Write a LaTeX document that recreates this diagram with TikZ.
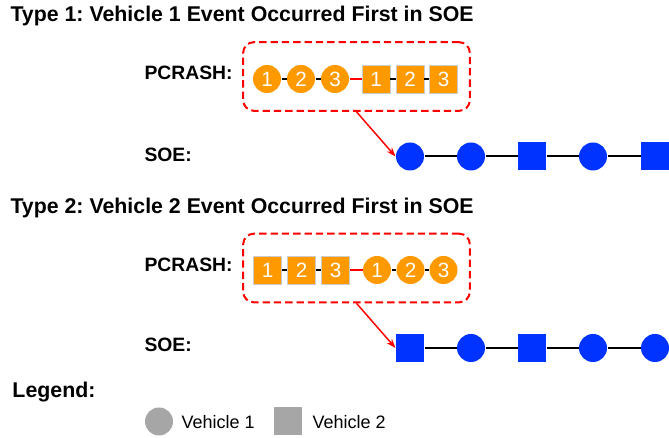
\documentclass[tikz,border=0pt]{standalone}
\usepackage{fontspec}
\setmainfont{Liberation Sans}
\frenchspacing
\usetikzlibrary{arrows.meta}
\tikzset{every picture/.style={line width=0.75pt}}
\definecolor{pcorange}{RGB}{255,153,0}
\definecolor{soeblue}{RGB}{0,51,255}
\definecolor{leggray}{RGB}{166,166,166}
\tikzset{
	veh1/.style={circle,fill=pcorange,text=white,minimum size=21pt,inner sep=0pt,font=\fontsize{15.5}{17}\selectfont},
	veh2/.style={rectangle,fill=pcorange,draw=black!20,line width=0.4pt,text=white,minimum size=21pt,inner sep=0pt,font=\fontsize{15.5}{17}\selectfont},
	soe1/.style={circle,fill=soeblue,minimum size=21pt,inner sep=0pt},
	soe2/.style={rectangle,fill=soeblue,minimum size=21pt,inner sep=0pt},
	leg1/.style={circle,fill=leggray,minimum size=21pt,inner sep=0pt},
	leg2/.style={rectangle,fill=leggray,minimum size=21pt,inner sep=0pt},
	pclink/.style={line width=1.1pt},
	soelink/.style={line width=1.5pt},
	crashbox/.style={draw=red,dash pattern=on 5.5pt off 3pt,line width=1.5pt,rounded corners=8pt,minimum width=170pt,minimum height=51.5pt},
	crasharrow/.style={draw=red,line width=1.1pt,-{Stealth[length=7pt,width=5pt]}},
	title/.style={anchor=base west,inner sep=0pt,font=\bfseries\fontsize{16}{18}\selectfont},
	rowlabel/.style={anchor=base west,inner sep=0pt,font=\bfseries\fontsize{14.5}{17}\selectfont},
	legtext/.style={anchor=west,inner sep=0pt,font=\fontsize{13.5}{16}\selectfont}
}
\begin{document}
\begin{tikzpicture}[x=0.75pt,y=0.75pt,yscale=-1,xscale=1]
		\useasboundingbox (0,0) rectangle (669,438);
		
		% Text Node
		\draw (10,21.7) node[title] (titlea) {Type 1: Vehicle 1 Event Occurred First in SOE};
		% Text Node
		\draw (144,80) node[rowlabel] (pclabela) {PCRASH:};
		% Text Node
		\draw (144,162) node[rowlabel] (soelabela) {SOE:};
		
		%Shape: Dashed Box
		\draw (356.5,76.5) node[crashbox] (boxa) {};
		%Shape: PCRASH Type 1
		\draw (267,79) node[veh1] (pa1) {1};
		\draw (301,79) node[veh1] (pa2) {2};
		\draw (335,79) node[veh1] (pa3) {3};
		\draw (376,79) node[veh2] (pa4) {1};
		\draw (410,79) node[veh2] (pa5) {2};
		\draw (443.5,79) node[veh2] (pa6) {3};
		\draw[pclink] (pa1) -- (pa2);
		\draw[pclink] (pa2) -- (pa3);
		\draw[pclink,red] (pa3) -- (pa4);
		\draw[pclink] (pa4) -- (pa5);
		\draw[pclink] (pa5) -- (pa6);
		
		%Shape: SOE Type 1
		\draw (410,156.5) node[soe1] (sa1) {};
		\draw (471,156.5) node[soe1] (sa2) {};
		\draw (532,156.5) node[soe2] (sa3) {};
		\draw (593,156.5) node[soe1] (sa4) {};
		\draw (655,156.5) node[soe2] (sa5) {};
		\draw[soelink] (sa1) -- (sa2);
		\draw[soelink] (sa2) -- (sa3);
		\draw[soelink] (sa3) -- (sa4);
		\draw[soelink] (sa4) -- (sa5);
		
		%Arrow
		\draw[crasharrow] (boxa.south) -- (sa1.west);
		
		% Text Node
		\draw (10,213.3) node[title] (titleb) {Type 2: Vehicle 2 Event Occurred First in SOE};
		% Text Node
		\draw (144,271.5) node[rowlabel] (pclabelb) {PCRASH:};
		% Text Node
		\draw (144,352) node[rowlabel] (soelabelb) {SOE:};
		
		%Shape: Dashed Box
		\draw (356.5,268) node[crashbox] (boxb) {};
		%Shape: PCRASH Type 2
		\draw (267.5,270) node[veh2] (pb1) {1};
		\draw (301.5,270) node[veh2] (pb2) {2};
		\draw (335.5,270) node[veh2] (pb3) {3};
		\draw (377,270) node[veh1] (pb4) {1};
		\draw (410.5,270) node[veh1] (pb5) {2};
		\draw (443.5,270) node[veh1] (pb6) {3};
		\draw[pclink] (pb1) -- (pb2);
		\draw[pclink] (pb2) -- (pb3);
		\draw[pclink,red] (pb3) -- (pb4);
		\draw[pclink] (pb4) -- (pb5);
		\draw[pclink] (pb5) -- (pb6);
		
		%Shape: SOE Type 2
		\draw (410,348) node[soe2] (sb1) {};
		\draw (471,348) node[soe1] (sb2) {};
		\draw (532,348) node[soe2] (sb3) {};
		\draw (593,348) node[soe1] (sb4) {};
		\draw (655,348) node[soe1] (sb5) {};
		\draw[soelink] (sb1) -- (sb2);
		\draw[soelink] (sb2) -- (sb3);
		\draw[soelink] (sb3) -- (sb4);
		\draw[soelink] (sb4) -- (sb5);
		
		%Arrow
		\draw[crasharrow] (boxb.south) -- (sb1.west);
		
		% Text Node
		\draw (12,398) node[title] (legtitle) {Legend:};
		%Shape: Legend
		\draw (159,421.5) node[leg1] (legv1) {};
		\draw (181,422) node[legtext] (legv1text) {Vehicle 1};
		\draw (287.5,421.5) node[leg2] (legv2) {};
		\draw (312,422) node[legtext] (legv2text) {Vehicle 2};
		
\end{tikzpicture}
\end{document}
